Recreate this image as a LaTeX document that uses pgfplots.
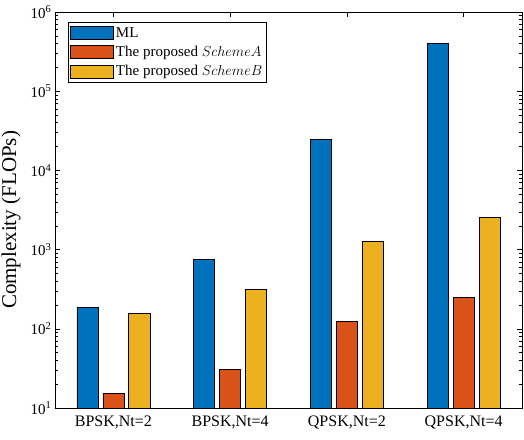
\documentclass[border=0pt]{standalone}
\usepackage{pgfplots}
\pgfplotsset{compat=1.18}
\usepackage{fontspec}
\setmainfont{Liberation Serif}

\definecolor{mlblue}{RGB}{0,114,189}
\definecolor{mlorange}{RGB}{217,83,25}
\definecolor{mlyellow}{RGB}{237,177,32}

\pgfplotsset{
  cbar/.style={ybar, bar width=0.18, bar shift=#1, draw=black, line width=0.6pt,
    legend image code/.code={\draw[##1, draw=black, line width=0.6pt] (0pt,-6.5pt) rectangle (43pt,6.5pt);}},
}

\begin{document}
\begin{tikzpicture}
\begin{axis}[
    scale only axis,
    width=467pt,
    height=396pt,
    ymode=log,
    ymin=10, ymax=1e6,
    log origin=infty,
    xmin=0.5, xmax=4.5,
    xtick={1,2,3,4},
    xticklabels={{BPSK,Nt=2},{BPSK,Nt=4},{QPSK,Nt=2},{QPSK,Nt=4}},
    ytick={10,100,1000,10000,100000,1000000},
    yticklabels={10\textsuperscript{1},10\textsuperscript{2},10\textsuperscript{3},10\textsuperscript{4},10\textsuperscript{5},10\textsuperscript{6}},
    minor ytick={20,30,40,50,60,70,80,90,200,300,400,500,600,700,800,900,
                 2000,3000,4000,5000,6000,7000,8000,9000,
                 20000,30000,40000,50000,60000,70000,80000,90000,
                 200000,300000,400000,500000,600000,700000,800000,900000},
    major tick length=5pt,
    minor tick length=3pt,
    tick style={black, line width=0.5pt},
    axis line style={line width=0.6pt},
    xticklabel style={font=\fontsize{16}{19}\selectfont, yshift=-4pt},
    yticklabel style={font=\fontsize{15}{18}\selectfont},
    ylabel={Complexity (FLOPs)},
    ylabel style={at={(axis description cs:-0.094,0.475)}, anchor=center, font=\fontsize{21}{25}\selectfont},
    legend style={at={(0.028,0.975)}, anchor=north west, draw=black, line width=0.6pt,
        font=\fontsize{15}{18}\selectfont, inner xsep=2pt, inner ysep=3pt, row sep=3.5pt,
        cells={anchor=west}},
]

\addplot[cbar=-0.222, fill=mlblue] coordinates {
    (1,188) (2,755) (3,24800) (4,400000)
};
\addlegendentry{ML}

\addplot[cbar=0, fill=mlorange] coordinates {
    (1,15.4) (2,31) (3,124) (4,250)
};
\addlegendentry{The proposed $SchemeA$}

\addplot[cbar=0.222, fill=mlyellow] coordinates {
    (1,158) (2,316) (3,1270) (4,2560)
};
\addlegendentry{The proposed $SchemeB$}

\end{axis}
\pgfresetboundingbox
\useasboundingbox ([xshift=-55pt,yshift=-32pt]current axis.south west) rectangle ([xshift=2pt,yshift=12pt]current axis.north east);
\end{tikzpicture}
\end{document}
